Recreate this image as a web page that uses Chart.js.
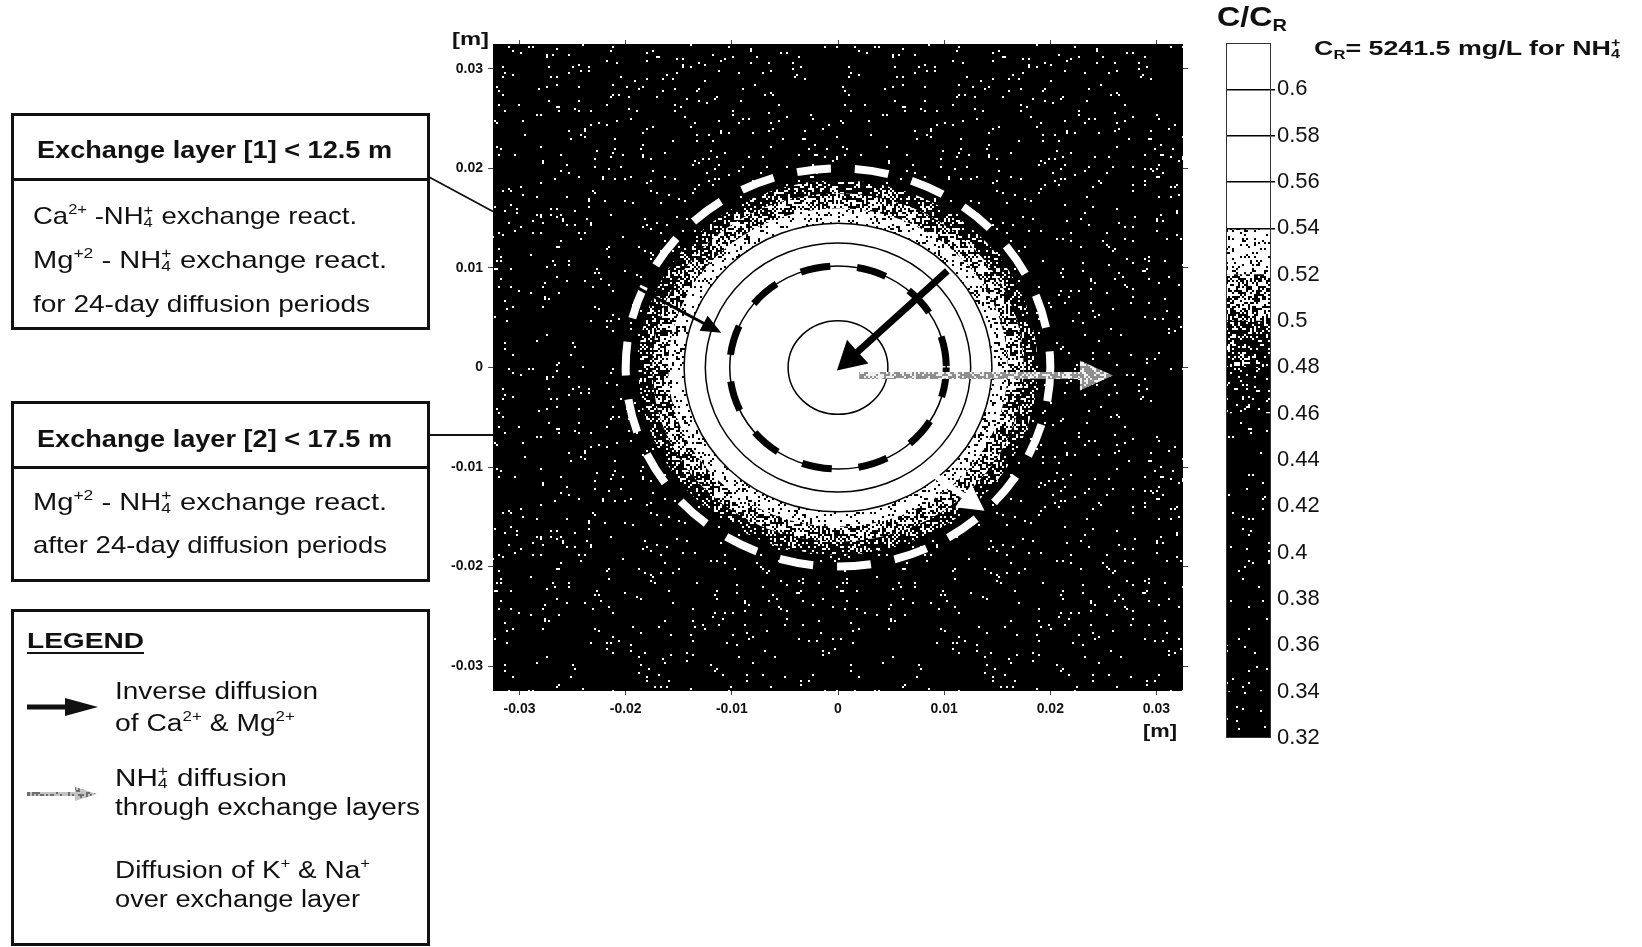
<!DOCTYPE html>
<html lang="en">
<head>
  <meta charset="UTF-8">
  <title>NH4+ diffusion through exchange layers</title>
  <script src="https://cdn.jsdelivr.net/npm/chart.js@4.4.1/dist/chart.umd.min.js"></script>
  <style>
    body { margin: 0; background: #fff; font-family: 'Liberation Sans', Arial, sans-serif; color: #111; }
    #page { position: relative; width: 1642px; height: 947px; overflow: hidden; }
    #page canvas { position: absolute; left: 0; top: 0; }
    #cbar { z-index: 1; }
    .box { position: absolute; box-sizing: border-box; border: 3px solid #111; z-index: 2; }
    .rule { position: absolute; left: 11px; width: 419px; height: 3px; background: #111; z-index: 2; }
    .t { position: absolute; white-space: nowrap; line-height: 1; transform-origin: 0 0; z-index: 3; }
    .b { font-weight: bold; }
    .u { text-decoration: underline; text-decoration-thickness: 2px; text-underline-offset: 4px; }
    .sp { font-size: 0.6em; position: relative; top: -0.7em; }
    .sb { font-size: 0.62em; position: relative; top: 0.3em; }
    /* stacked sub/sup, as in NH4+ */
    .st { position: relative; display: inline-block; width: 0.62em; height: 0; font-size: 0.6em; }
    .st i { position: absolute; left: 0; font-style: normal; line-height: 1; }
    .st i:first-child { top: -1.5em; }
    .st i:last-child { top: -0.62em; }
  </style>
</head>
<body>
<div id="page">
  <canvas id="field" width="1642" height="947"></canvas>
  <canvas id="cbar" width="1642" height="947"></canvas>

  <div class="t b" data-x="452" data-b="45" data-w="37" data-s="19">[m]</div>
  <div class="t b" data-x="1143" data-b="737" data-w="34" data-s="19">[m]</div>
  <div class="t b" data-x="1217" data-b="27" data-w="70" data-s="27">C/C<span class="sb">R</span></div>
  <div class="t b" data-x="1314" data-b="55" data-w="307" data-s="20">C<span class="sb">R</span>= 5241.5 mg/L for NH<span class="st"><i>+</i><i>4</i></span></div>

  <div class="box" style="left:11px;top:113px;width:419px;height:217px"></div>
  <div class="rule" style="top:178px"></div>
  <div class="t b" data-x="36.7" data-b="158.5" data-w="355" data-s="24">Exchange layer [1] &lt; 12.5 m</div>
  <div class="t" data-x="32.7" data-b="224.5" data-w="324" data-s="24">Ca<span class="sp">2+</span> -NH<span class="st"><i>+</i><i>4</i></span> exchange react.</div>
  <div class="t" data-x="32.7" data-b="268" data-w="354" data-s="24">Mg<span class="sp">+2</span> - NH<span class="st"><i>+</i><i>4</i></span> exchange react.</div>
  <div class="t" data-x="32.7" data-b="312" data-w="337" data-s="24">for 24-day diffusion periods</div>

  <div class="box" style="left:11px;top:401px;width:419px;height:181px"></div>
  <div class="rule" style="top:466px"></div>
  <div class="t b" data-x="36.7" data-b="447" data-w="355" data-s="24">Exchange layer [2] &lt; 17.5 m</div>
  <div class="t" data-x="32.7" data-b="510" data-w="354" data-s="24">Mg<span class="sp">+2</span> - NH<span class="st"><i>+</i><i>4</i></span> exchange react.</div>
  <div class="t" data-x="32.7" data-b="553.5" data-w="354" data-s="24">after 24-day diffusion periods</div>

  <div class="box" style="left:11px;top:609px;width:419px;height:337px"></div>
  <div class="t b u" data-x="26.7" data-b="649" data-w="117" data-s="22">LEGEND</div>
  <div class="t" data-x="115" data-b="699.5" data-w="203" data-s="23">Inverse diffusion</div>
  <div class="t" data-x="115" data-b="731" data-w="180" data-s="23">of Ca<span class="sp">2+</span> &amp; Mg<span class="sp">2+</span></div>
  <div class="t" data-x="115" data-b="786" data-w="172" data-s="23">NH<span class="st"><i>+</i><i>4</i></span> diffusion</div>
  <div class="t" data-x="115" data-b="815.5" data-w="305" data-s="23">through exchange layers</div>
  <div class="t" data-x="115" data-b="878" data-w="255" data-s="23">Diffusion of K<span class="sp">+</span> &amp; Na<span class="sp">+</span></div>
  <div class="t" data-x="115" data-b="907.5" data-w="245" data-s="23">over exchange layer</div>
</div>

<script>
  // Axis ticks of the domain plot [m]
  const axisTicks = [-0.03, -0.02, -0.01, 0, 0.01, 0.02, 0.03];
  const axisTickLabels = ['-0.03', '-0.02', '-0.01', '0', '0.01', '0.02', '0.03'];
  const domainMin = -0.0325;
  const domainMax = 0.0325;

  // C/CR colour bands (lower and upper bound of each 0.02 band)
  const bandLower = [0.32, 0.34, 0.36, 0.38, 0.40, 0.42, 0.44, 0.46, 0.48, 0.50, 0.52, 0.54, 0.56, 0.58, 0.60];
  const bandUpper = [0.34, 0.36, 0.38, 0.40, 0.42, 0.44, 0.46, 0.48, 0.50, 0.52, 0.54, 0.56, 0.58, 0.60, 0.62];
  const cbTickValues = [0.32, 0.34, 0.36, 0.38, 0.40, 0.42, 0.44, 0.46, 0.48, 0.50, 0.52, 0.54, 0.56, 0.58, 0.60];
  const cbTickLabels = ['0.32', '0.34', '0.36', '0.38', '0.4', '0.42', '0.44', '0.46', '0.48', '0.5', '0.52', '0.54', '0.56', '0.58', '0.6'];

  // Radial position [m] of each concentration contour around the source
  const contourLevels = [0.48, 0.50, 0.52, 0.54, 0.56, 0.58, 0.60];
  const contourRadii = [0.0188, 0.0175, 0.0160, 0.0145, 0.0125, 0.0102, 0.0047];
  const contourLineLevels = [0.54, 0.56, 0.58, 0.60];

  // Exchange layer boundaries [m]
  const layer1Radius = 0.0102;
  const layer2Radius = 0.0200;

  // Inverse diffusion of Ca2+ & Mg2+ (tail -> tip)
  const inwardTailX = [0.0103, -0.0201];
  const inwardTailY = [0.0097, 0.0087];
  const inwardTipX = [-0.0001, -0.0110];
  const inwardTipY = [-0.0003, 0.0035];
  // NH4+ diffusion outward
  const nh4Tail = [0.0020, -0.0008];
  const nh4Tip = [0.0259, -0.0008];
  // K+ & Na+ diffusion over the exchange layer
  const knaTail = [0.0092, -0.0109];
  const knaTip = [0.0138, -0.0144];

  // share of white grain in each band's fill
  const bandGrain = [0.02, 0.02, 0.02, 0.02, 0.02, 0.02, 0.02, 0.06, 0.25, 0.52, 0.86, 1, 1, 1, 1];
  const backgroundBand = 6;

  const FONT = "'Liberation Sans', Arial, sans-serif";

  function hash(n) {
    n = Math.imul(n ^ (n >>> 16), 0x45d9f3b);
    n = Math.imul(n ^ (n >>> 16), 0x45d9f3b);
    n ^= n >>> 16;
    return (n >>> 0) / 4294967296;
  }

  // grainy fill like a printed halftone
  function grain(base, dot, frac, seed) {
    if (frac >= 1) return dot;
    const cw = 173, ch = 161;
    const c = document.createElement('canvas');
    c.width = cw * 2; c.height = ch * 2;
    const g = c.getContext('2d');
    g.fillStyle = base;
    g.fillRect(0, 0, c.width, c.height);
    g.fillStyle = dot;
    for (let i = 0; i < cw * ch; i++) {
      if (hash(seed * 1000003 + i * 7) < frac) g.fillRect((i % cw) * 2, Math.floor(i / cw) * 2, 2, 2);
    }
    return g.createPattern(c, 'repeat');
  }

  const bandFill = bandGrain.map((f, i) => grain('#000', '#fff', f, i + 1));
  const nh4Fill = grain('#8e8e8e', '#f0f0f0', 0.42, 41);
  const nh4LegendFill = grain('#c4c4c4', '#6e6e6e', 0.35, 43);

  function fillForLevel(level) {
    return bandFill[bandLower.indexOf(level)];
  }

  function arrow(ctx, x0, y0, x1, y1, shaft, headLen, headW, fill) {
    const dx = x1 - x0, dy = y1 - y0, L = Math.hypot(dx, dy);
    const ux = dx / L, uy = dy / L, nx = -uy, ny = ux;
    const bx = x1 - ux * headLen, by = y1 - uy * headLen;
    ctx.beginPath();
    ctx.moveTo(x0 + nx * shaft / 2, y0 + ny * shaft / 2);
    ctx.lineTo(bx + nx * shaft / 2, by + ny * shaft / 2);
    ctx.lineTo(bx + nx * headW / 2, by + ny * headW / 2);
    ctx.lineTo(x1, y1);
    ctx.lineTo(bx - nx * headW / 2, by - ny * headW / 2);
    ctx.lineTo(bx - nx * shaft / 2, by - ny * shaft / 2);
    ctx.lineTo(x0 - nx * shaft / 2, y0 - ny * shaft / 2);
    ctx.closePath();
    ctx.fillStyle = fill;
    ctx.fill();
  }

  const fieldPlugin = {
    id: 'field',
    afterDatasetsDraw(chart) {
      const {ctx, chartArea: a, scales: {x, y}} = chart;
      const cx = x.getPixelForValue(0), cy = y.getPixelForValue(0);
      const ring = r => {
        ctx.beginPath();
        ctx.ellipse(cx, cy, x.getPixelForValue(r) - cx, cy - y.getPixelForValue(r), 0, 0, Math.PI * 2);
      };
      const px = (vx, vy) => [x.getPixelForValue(vx), y.getPixelForValue(vy)];

      ctx.save();
      ctx.beginPath();
      ctx.rect(a.left, a.top, a.width, a.height);
      ctx.clip();

      ctx.fillStyle = bandFill[backgroundBand];
      ctx.fillRect(a.left, a.top, a.width, a.height);

      contourLevels.forEach((lv, i) => {
        ring(contourRadii[i]);
        ctx.fillStyle = fillForLevel(lv);
        ctx.fill();
      });

      ctx.strokeStyle = '#000';
      ctx.lineWidth = 1.5;
      contourLevels.forEach((lv, i) => {
        if (!contourLineLevels.includes(lv)) return;
        ring(contourRadii[i]);
        ctx.stroke();
      });

      // exchange layer [1] and [2]
      ctx.setLineDash([30, 27]);
      ctx.lineWidth = 7;
      ring(layer1Radius);
      ctx.stroke();
      ctx.setLineDash([34, 24]);
      ctx.lineWidth = 8;
      ctx.strokeStyle = '#fff';
      ring(layer2Radius);
      ctx.stroke();
      ctx.setLineDash([]);

      const big = [...px(inwardTailX[0], inwardTailY[0]), ...px(inwardTipX[0], inwardTipY[0])];
      arrow(ctx, ...big, 7, 28, 32, '#000');
      const small = [...px(inwardTailX[1], inwardTailY[1]), ...px(inwardTipX[1], inwardTipY[1])];
      arrow(ctx, ...small, 3, 20, 17, '#000');
      arrow(ctx, ...px(...nh4Tail), ...px(...nh4Tip), 7, 33, 30, nh4Fill);
      arrow(ctx, ...px(...knaTail), ...px(...knaTip), 6, 26, 28, '#fff');
      ctx.restore();
    },
    afterDraw(chart) {
      const {ctx, chartArea: a} = chart;
      ctx.save();
      // leaders from the layer boxes
      ctx.strokeStyle = '#111';
      ctx.lineWidth = 1.8;
      ctx.beginPath();
      ctx.moveTo(429, 177);
      ctx.lineTo(a.left, 211.5);
      ctx.moveTo(429, 435);
      ctx.lineTo(a.left, 435);
      ctx.stroke();
      // legend glyphs
      arrow(ctx, 27, 707, 98, 707, 5, 33, 18, '#111');
      arrow(ctx, 27, 794, 97, 794, 4, 22, 14, nh4LegendFill);
      ctx.restore();
    }
  };

  const tickFont = {family: FONT, size: 14, weight: 'bold'};
  const setTicks = s => { s.ticks = axisTicks.map(v => ({value: v})); };
  const axisGrid = {drawOnChartArea: false, tickLength: 5, color: '#444', lineWidth: 1};

  new Chart(document.getElementById('field'), {
    type: 'scatter',
    data: {datasets: []},
    options: {
      responsive: false,
      animation: false,
      events: [],
      layout: {padding: {left: 433, right: 453, top: 38, bottom: 226}},
      plugins: {legend: {display: false}, tooltip: {enabled: false}},
      scales: {
        x: {
          type: 'linear', position: 'bottom', min: domainMin, max: domainMax,
          afterBuildTicks: setTicks,
          ticks: {callback: (v, i) => axisTickLabels[i], font: tickFont, color: '#111', padding: 6, maxRotation: 0, autoSkip: false},
          grid: {...axisGrid, tickLength: 4},
          border: {display: false},
          afterFit: s => { s.height = 30; }
        },
        x2: {
          type: 'linear', position: 'top', min: domainMin, max: domainMax,
          afterBuildTicks: setTicks,
          ticks: {display: false},
          grid: {...axisGrid, tickLength: 4},
          border: {display: false},
          afterFit: s => { s.height = 6; }
        },
        y: {
          type: 'linear', position: 'left', min: domainMin, max: domainMax,
          afterBuildTicks: setTicks,
          ticks: {callback: (v, i) => axisTickLabels[i], font: tickFont, color: '#111', padding: 5, autoSkip: false},
          grid: axisGrid,
          border: {display: false},
          afterFit: s => { s.width = 60; }
        },
        y2: {
          type: 'linear', position: 'right', min: domainMin, max: domainMax,
          afterBuildTicks: setTicks,
          ticks: {display: false},
          grid: axisGrid,
          border: {display: false},
          afterFit: s => { s.width = 6; }
        }
      }
    },
    plugins: [fieldPlugin]
  });

  const framePlugin = {
    id: 'frame',
    afterDraw(chart) {
      const {ctx, chartArea: a} = chart;
      ctx.save();
      ctx.strokeStyle = '#333';
      ctx.lineWidth = 1;
      ctx.strokeRect(a.left + 0.5, a.top + 0.5, a.width - 1, a.height - 1);
      ctx.restore();
    }
  };

  new Chart(document.getElementById('cbar'), {
    type: 'bar',
    data: {
      labels: ['C/CR'],
      datasets: bandLower.map((lo, i) => ({
        data: [[lo, bandUpper[i]]],
        backgroundColor: bandFill[i],
        borderWidth: 0,
        barPercentage: 1,
        categoryPercentage: 1,
        grouped: false
      }))
    },
    options: {
      responsive: false,
      animation: false,
      events: [],
      layout: {padding: {left: 1226, right: 311, top: 43, bottom: 209}},
      plugins: {legend: {display: false}, tooltip: {enabled: false}},
      scales: {
        x: {display: false},
        y: {
          position: 'right', min: 0.32, max: 0.62,
          afterBuildTicks: s => { s.ticks = cbTickValues.map(v => ({value: v})); },
          ticks: {callback: (v, i) => cbTickLabels[i], font: {family: FONT, size: 22}, color: '#111', padding: 2, autoSkip: false},
          grid: {
            z: 1,
            drawOnChartArea: true,
            tickLength: 4,
            lineWidth: 1.5,
            color: c => (c.tick && contourLineLevels.includes(c.tick.value)) ? '#000' : 'rgba(0,0,0,0)'
          },
          border: {display: false},
          afterFit: s => { s.width = 60; }
        }
      }
    },
    plugins: [framePlugin]
  });

  // place text lines by baseline and stretch them to their set widths
  document.querySelectorAll('.t').forEach(el => {
    const s = +el.dataset.s;
    el.style.fontSize = s + 'px';
    el.style.left = el.dataset.x + 'px';
    el.style.top = (el.dataset.b - 0.8465 * s) + 'px';
    const w = el.getBoundingClientRect().width;
    el.style.transform = 'scaleX(' + (el.dataset.w / w).toFixed(3) + ')';
  });
</script>
</body>
</html>
